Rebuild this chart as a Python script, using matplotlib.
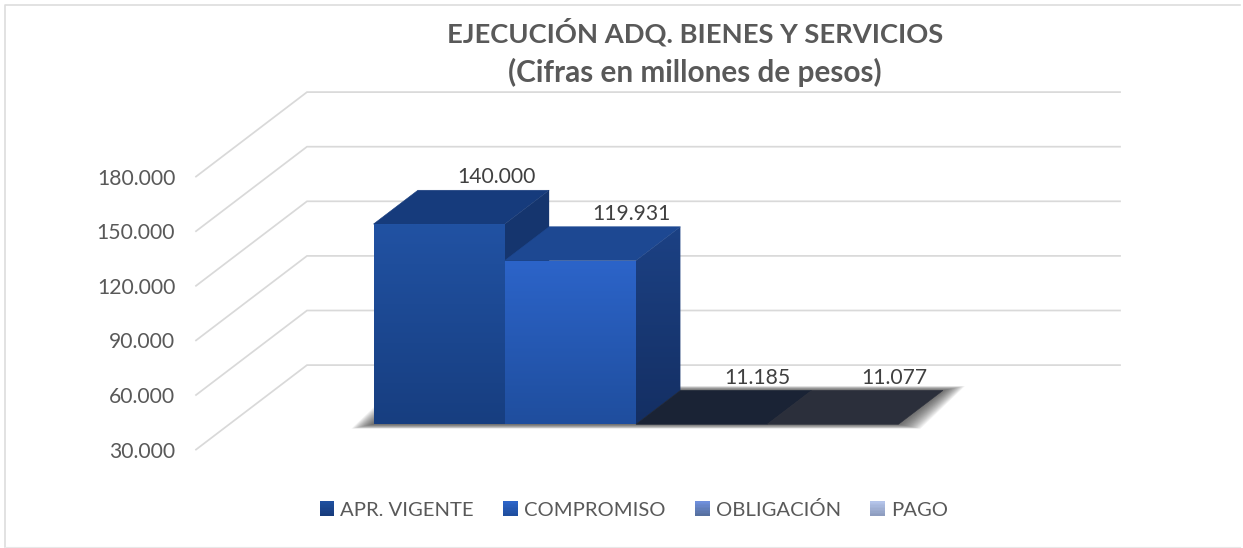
import matplotlib
matplotlib.use("Agg")
import matplotlib.pyplot as plt
import numpy as np
from matplotlib.legend_handler import HandlerBase
from matplotlib.lines import Line2D
from matplotlib.patches import Patch, Polygon, Rectangle
from matplotlib.ticker import FuncFormatter

plt.rcParams['font.family'] = ['Lato', 'DejaVu Sans']

W, H = 1243, 548

categories = ["APR. VIGENTE", "COMPROMISO", "OBLIGACIÓN", "PAGO"]
values = [140000, 119931, 11185, 11077]
value_labels = ["140.000", "119.931", "11.185", "11.077"]
y_ticks = [30000, 60000, 90000, 120000, 150000, 180000]

# front face gradient (top, bottom) for each series
front_colors = [("#2152A3", "#173E80"), ("#2C64C9", "#1F4E9E")]
top_colors = ["#163B7C", "#1D4892", "#1A2335", "#2B2F3B"]
side_colors = [("#16366F", "#15346E"), ("#1C4184", "#142F63")]
legend_colors = [("#1F4F9F", "#173C7C"), ("#2C64C9", "#1F4E9E"),
                 ("#6F8FDC", "#56709F"), ("#B4C4EA", "#8E9DBF")]
# label nudge in pixels, the chart put them by hand
label_dx = [13, 17, 11, 17]

# pixel layout of the 3d box
px_left, px_right = 196, 1120
py_floor, py_top = 449.6, 92
px_per_val = 0.00182
px_per_cat = 131.25
depth_px = (111, 84.5)
bar_d0, bar_d1 = 0.30, 0.70
x0_px = 340.2

fig = plt.figure(figsize=(W / 100, H / 100), dpi=100)
fig.patch.set_facecolor("white")
ax = fig.add_axes([px_left / W, 1 - py_floor / H, (px_right - px_left) / W, (py_floor - py_top) / H])
ax.patch.set_alpha(0)
ax.set_xlim((px_left - x0_px) / px_per_cat, (px_right - x0_px) / px_per_cat)
ax.set_ylim(y_ticks[0], y_ticks[0] + (py_floor - py_top) / px_per_val)
xlim, ylim = ax.get_xlim(), ax.get_ylim()

dx_cat = depth_px[0] / px_per_cat
dy_val = depth_px[1] / px_per_val


def proj(c, v, d):
    return c + d * dx_cat, v + d * dy_val


def gradient(poly_pts, top, bottom, zorder):
    poly = Polygon(poly_pts, closed=True, transform=ax.transData, fc="none", ec="none")
    ax.add_patch(poly)
    c = matplotlib.colors.to_rgb(top), matplotlib.colors.to_rgb(bottom)
    arr = np.linspace(c[0], c[1], 64).reshape(64, 1, 3)
    xs = [p[0] for p in poly_pts]
    ys = [p[1] for p in poly_pts]
    im = ax.imshow(arr, extent=(min(xs), max(xs), min(ys), max(ys)), origin="upper",
                   aspect="auto", zorder=zorder, interpolation="bilinear")
    im.set_clip_path(poly)


# grid
for v in y_ticks:
    x1, y1 = proj(xlim[0], v, 0)
    x2, y2 = proj(xlim[0], v, 1)
    ax.plot([x1, x2, xlim[1]], [y1, y2, y2], color="#D9D9D9", lw=1.25, zorder=1, clip_on=False,
            solid_joinstyle="miter")

# soft shadow under the bars, spreads mostly sideways
n = len(values)
a = proj(0, y_ticks[0], bar_d0)
b = proj(n, y_ticks[0], bar_d0)
c = proj(n, y_ticks[0], bar_d1)
d = proj(0, y_ticks[0], bar_d1)
layers = 20
for k in range(layers, 0, -1):
    ex = k * 1.1 / px_per_cat
    ey = k * 0.22 / px_per_val
    ax.add_patch(Polygon([(a[0] - ex, a[1] - ey), (b[0] + ex, b[1] - ey), (c[0] + ex, c[1] + ey), (d[0] - ex, d[1] + ey)],
                         closed=True, fc="#3C3C3C", ec="none", alpha=0.06, zorder=2, clip_on=False))

# bars, clipped at the axis minimum like the original
for i, v in enumerate(values):
    h = max(v, y_ticks[0])
    base = y_ticks[0]
    f0 = proj(i, base, bar_d0)
    f1 = proj(i + 1, base, bar_d0)
    t0 = proj(i, h, bar_d0)
    t1 = proj(i + 1, h, bar_d0)
    b0 = proj(i, h, bar_d1)
    b1 = proj(i + 1, h, bar_d1)
    s1 = proj(i + 1, base, bar_d1)
    zo = 3 + i
    ax.add_patch(Polygon([t0, t1, b1, b0], closed=True, fc=top_colors[i], ec=top_colors[i], lw=0.4, zorder=zo))
    if h > base:
        gradient([t1, b1, s1, f1], side_colors[i][0], side_colors[i][1], zo)
        gradient([f0, f1, t1, t0], front_colors[i][0], front_colors[i][1], zo + 0.1)
    lx, ly = proj(i + 0.5, h, bar_d1)
    ax.annotate(value_labels[i], (lx, ly), xytext=(label_dx[i] * 0.72, 9.2), textcoords="offset points",
                ha="center", va="center", fontsize=15.2, color="#404040", zorder=10, annotation_clip=False)

ax.set_xlim(xlim)
ax.set_ylim(ylim)
ax.set_xticks([])
ax.set_yticks(y_ticks)
ax.yaxis.set_major_formatter(FuncFormatter(lambda v, pos: f"{v:,.0f}".replace(",", ".")))
ax.tick_params(axis="y", length=0, pad=15, labelsize=15.2, labelcolor="#595959")
for s in ax.spines.values():
    s.set_visible(False)


class GradHandler(HandlerBase):
    def create_artists(self, legend, orig, xd, yd, width, height, fontsize, trans):
        top, bottom = orig.grad
        steps = 10
        cols = np.linspace(matplotlib.colors.to_rgb(bottom), matplotlib.colors.to_rgb(top), steps)
        side = 10.6
        out = []
        for k in range(steps):
            r = Rectangle((xd * -1 + width - side, -yd + (height - side) / 2 + k * side / steps), side,
                          side / steps * 1.05, fc=cols[k], ec="none", transform=trans)
            out.append(r)
        return out


handles = []
for col in legend_colors:
    p = Patch()
    p.grad = col
    handles.append(p)
leg = fig.legend(handles, categories, ncol=4, loc="center", bbox_to_anchor=(633 / W, 1 - 509.5 / H),
                 frameon=False, fontsize=14.6, labelcolor="#595959", handler_map={Patch: GradHandler()},
                 columnspacing=1.37, handletextpad=0.3, handlelength=0.8, borderpad=0)

fig.text(695 / W, 1 - 32 / H, "EJECUCIÓN ADQ. BIENES Y SERVICIOS", ha="center", va="center",
         fontsize=19.7, fontweight="bold", color="#595959")
fig.text(695 / W, 1 - 72 / H, "(Cifras en millones de pesos)", ha="center", va="center",
         fontsize=21.4, fontweight="bold", color="#595959")

# chart border: only top, left and faint bottom show in the picture
fig.add_artist(Line2D([5 / W, 5 / W, 1240 / W], [1 - 547 / H, 1 - 5 / H, 1 - 5 / H], color="#DDDDDD", lw=1.2))
fig.add_artist(Line2D([5 / W, 1240 / W], [1 - 547 / H, 1 - 547 / H], color="#E8E8E8", lw=0.8))

fig.savefig("out.png", dpi=100)
